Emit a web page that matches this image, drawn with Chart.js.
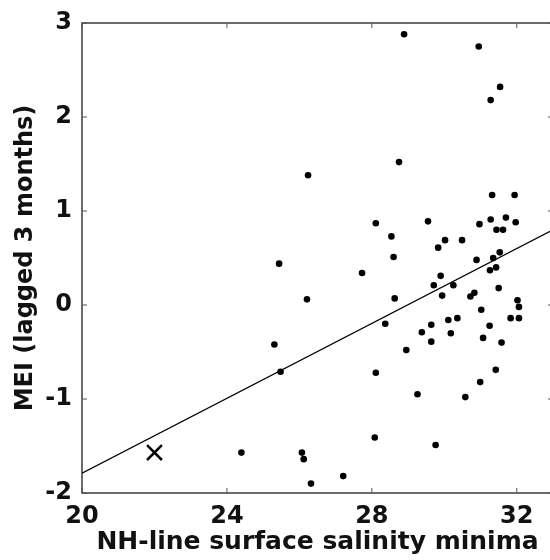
<!DOCTYPE html>
<html>
<head>
<meta charset="utf-8">
<script src="https://cdn.jsdelivr.net/npm/chart.js@4/dist/chart.umd.min.js"></script>
<style>
    html, body { margin: 0; padding: 0; overflow: hidden; background: #fff; }
</style>
</head>
<body>
<canvas id="myChart" width="560" height="560"></canvas>
<script>
// salinity minima (x) vs MEI lagged 3 months (y)
const salinity = [
    26.24, 25.44, 28.89, 30.95, 31.54, 31.28, 28.75, 31.32, 31.94, 28.11,
    29.55, 30.97, 31.28, 31.70, 31.97, 31.44, 31.62, 28.54, 30.02, 30.49,
    29.83, 31.53, 28.60, 30.89, 31.35, 31.26, 31.43, 27.73, 29.90, 26.21,
    25.31, 25.48, 24.40, 26.07, 26.12, 26.32, 29.71, 30.25, 29.94, 28.63,
    30.72, 30.83, 31.50, 32.02, 32.06, 31.83, 32.06, 31.02, 30.11, 30.36,
    28.37, 29.64, 29.38, 30.18, 31.25, 31.07, 29.64, 31.58, 28.95, 28.11,
    31.42, 30.99, 29.26, 30.58, 28.08, 29.76, 27.21
];
const mei = [
    1.38, 0.44, 2.88, 2.75, 2.32, 2.18, 1.52, 1.17, 1.17, 0.87,
    0.89, 0.86, 0.91, 0.93, 0.88, 0.80, 0.80, 0.73, 0.69, 0.69,
    0.61, 0.56, 0.51, 0.48, 0.50, 0.37, 0.40, 0.34, 0.31, 0.06,
    -0.42, -0.71, -1.57, -1.57, -1.64, -1.90, 0.21, 0.21, 0.10, 0.07,
    0.09, 0.13, 0.18, 0.05, -0.02, -0.14, -0.14, -0.05, -0.16, -0.14,
    -0.20, -0.21, -0.29, -0.30, -0.22, -0.35, -0.39, -0.40, -0.48, -0.72,
    -0.69, -0.82, -0.95, -0.98, -1.41, -1.49, -1.82
];

// regression line end points
const fitX = [20, 33];
const fitY = [-1.79, 0.80];

// the single "x" marked point
const markX = [22.0];
const markY = [-1.57];

const xTicks = [20, 24, 28, 32];
const yTicks = [-2, -1, 0, 1, 2, 3];

const toPoints = (xs, ys) => xs.map((v, i) => ({ x: v, y: ys[i] }));

const fontFamily = "'DejaVu Sans', sans-serif";

// box round the plot with the inward tick marks
const frameTicks = {
    id: "frameTicks",
    beforeDatasetsDraw(chart) {
        const { ctx, chartArea: a, scales } = chart;
        ctx.save();
        ctx.strokeStyle = "#3c3c3c";
        ctx.lineWidth = 1.5;
        ctx.strokeRect(a.left, a.top, a.right - a.left, a.bottom - a.top);
        ctx.lineWidth = 1;
        ctx.strokeStyle = "#555";
        ctx.beginPath();
        scales.x.ticks.forEach((t) => {
            const px = scales.x.getPixelForValue(t.value);
            ctx.moveTo(px, a.bottom);
            ctx.lineTo(px, a.bottom - 5);
            ctx.moveTo(px, a.top);
            ctx.lineTo(px, a.top + 5);
        });
        scales.y.ticks.forEach((t) => {
            const py = scales.y.getPixelForValue(t.value);
            ctx.moveTo(a.left, py);
            ctx.lineTo(a.left + 5, py);
            ctx.moveTo(a.right, py);
            ctx.lineTo(a.right - 5, py);
        });
        ctx.stroke();
        ctx.restore();
    },
};

const data = {
    datasets: [
        {
            type: "line",
            data: toPoints(fitX, fitY),
            borderColor: "#000",
            borderWidth: 1.3,
            pointRadius: 0,
        },
        {
            type: "scatter",
            data: toPoints(salinity, mei),
            backgroundColor: "#000",
            borderWidth: 0,
            pointRadius: 3.3,
        },
        {
            type: "scatter",
            data: toPoints(markX, markY),
            pointStyle: "crossRot",
            pointRadius: 10.5,
            borderColor: "#000",
            borderWidth: 2.5,
        },
    ],
};

const config = {
    type: "scatter",
    data,
    options: {
        responsive: false,
        animation: false,
        layout: { autoPadding: false, padding: { top: 23, right: 7, left: 0, bottom: 0 } },
        plugins: { legend: { display: false }, tooltip: { enabled: false } },
        scales: {
            x: {
                type: "linear",
                min: 20,
                max: 33,
                afterBuildTicks: (s) => { s.ticks = xTicks.map((v) => ({ value: v })); },
                afterFit: (s) => {
                    s.height = 67;
                    s.paddingLeft = 0;
                    s.paddingRight = 0;
                },
                grid: { display: false, drawTicks: false },
                border: { display: false },
                ticks: {
                    color: "#111",
                    padding: 9,
                    maxRotation: 0,
                    font: { family: fontFamily, size: 24, weight: "bold" },
                },
                title: {
                    display: true,
                    text: "NH-line surface salinity minima",
                    color: "#111",
                    padding: { top: 0, bottom: 3 },
                    font: { family: fontFamily, size: 25, weight: "bold" },
                },
            },
            y: {
                type: "linear",
                min: -2,
                max: 3,
                afterBuildTicks: (s) => { s.ticks = yTicks.map((v) => ({ value: v })); },
                afterFit: (s) => {
                    s.width = 82;
                    s.paddingTop = 0;
                    s.paddingBottom = 0;
                },
                grid: { display: false, drawTicks: false },
                border: { display: false },
                ticks: {
                    color: "#111",
                    padding: 10,
                    font: { family: fontFamily, size: 24, weight: "bold" },
                },
                title: {
                    display: true,
                    text: "MEI (lagged 3 months)",
                    color: "#111",
                    padding: { top: 11, bottom: 0 },
                    font: { family: fontFamily, size: 24, weight: "bold" },
                },
            },
        },
    },
    plugins: [frameTicks],
};

var myChart = new Chart(document.getElementById("myChart"), config);
</script>
</body>
</html>
